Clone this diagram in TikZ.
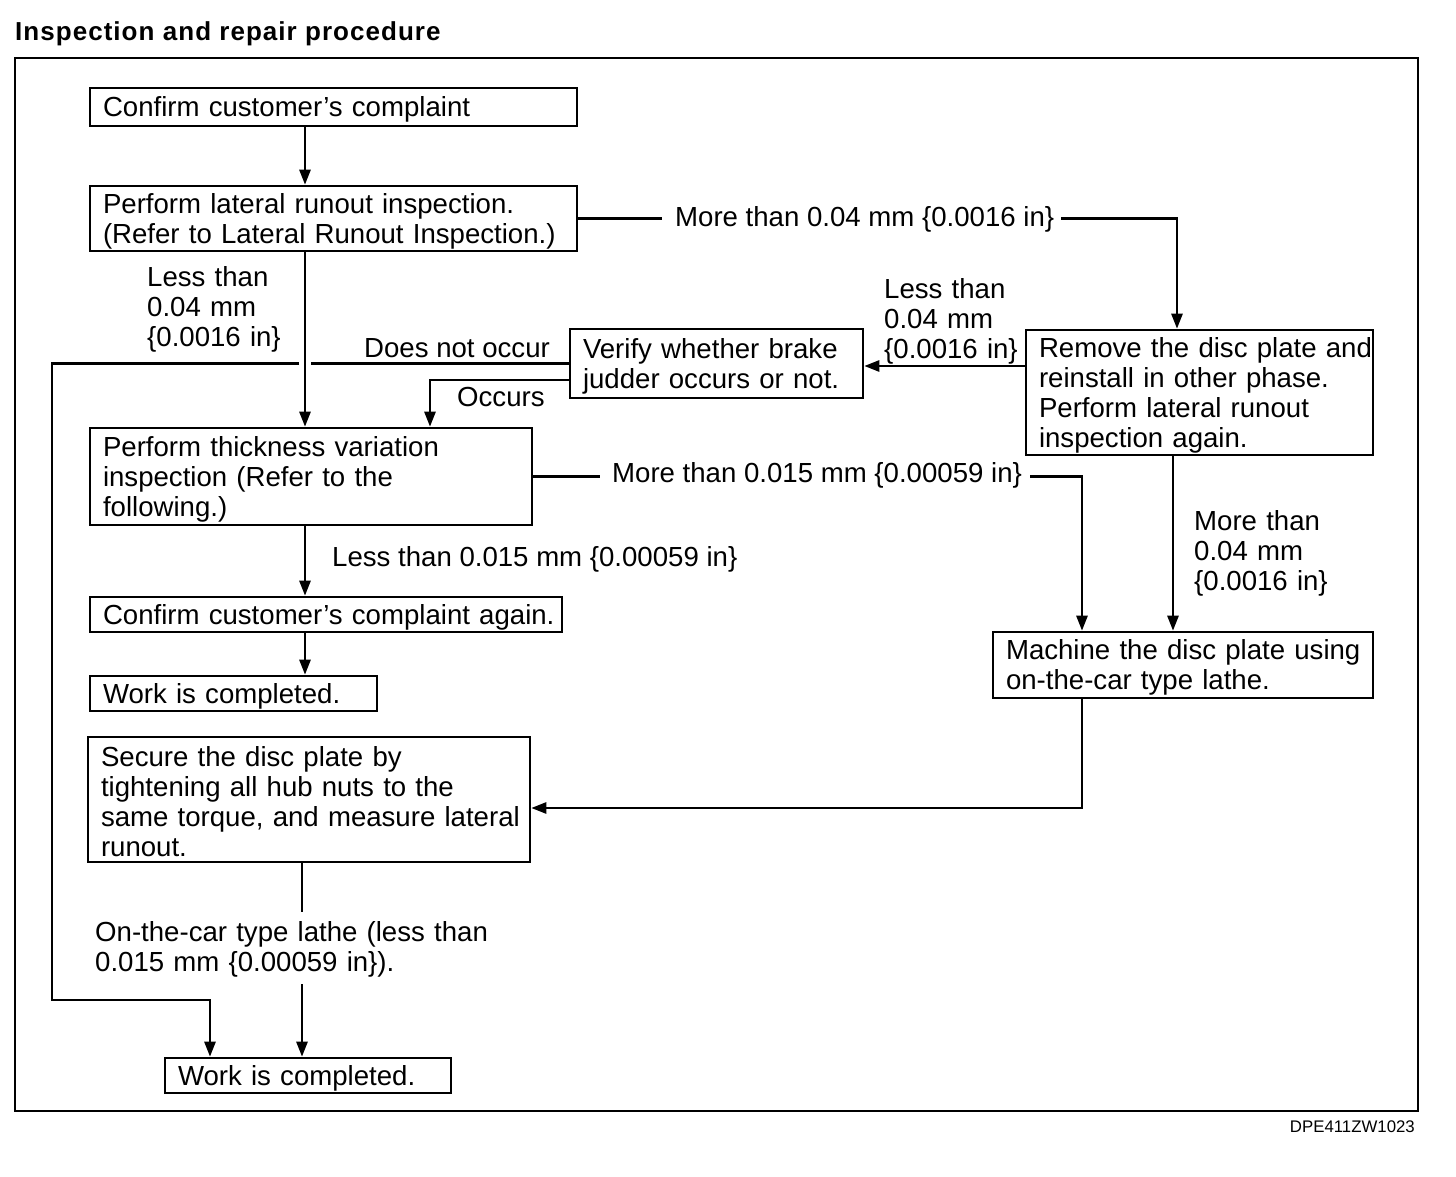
\documentclass[tikz,border=0pt]{standalone}
\usepackage{fontspec}
\setmainfont{Liberation Sans}
\usetikzlibrary{arrows.meta}
\newcommand\bodyfont{\fontsize{27.6}{30}\selectfont}
\newcommand\titlefont{\fontsize{26}{30}\selectfont\bfseries\addfontfeature{LetterSpace=4}}
\newcommand\codefont{\fontsize{16.8}{18}\selectfont}
\newcommand\mytl[1]{\mbox{#1}}
\tikzset{
  box/.style={draw, line width=2.6pt, inner xsep=13pt, inner ysep=0pt, align=left, font=\bodyfont, text height=25pt},
  lbl/.style={inner sep=0pt, align=left, font=\bodyfont},
  conn/.style={line width=2.6pt},
  arr/.style={line width=2.6pt, -{Triangle[length=15pt,width=11pt]}},
}
\begin{document}
\begin{tikzpicture}[x=1pt,y=-1pt]
\useasboundingbox (0,0) rectangle (1456,1176);
% title and frame
\node[inner sep=0pt, anchor=base west, font=\titlefont] (title) at (15,40) {Inspection and repair procedure};
\draw[line width=2.4pt] (15,58) rectangle (1418,1111);
\node[inner sep=0pt, anchor=base east, font=\codefont] (code) at (1415,1132) {DPE411ZW1023};

% columns
\coordinate (colA) at (305,0);
\coordinate (colB) at (302,0);
\coordinate (colC) at (1177,0);
\coordinate (colD) at (1082,0);
\coordinate (colE) at (1173,0);
\coordinate (colF) at (430,0);
\coordinate (colG) at (52,0);
\coordinate (colH) at (210,0);

% boxes
\node[box, text width=461pt, minimum height=38pt] (c1) at (333.5,107) {\mytl{Confirm customer's complaint}};
\node[box, text width=461pt, minimum height=65pt] (c2) at (333.5,218.5) {\mytl{Perform lateral runout inspection.}\\\mytl{(Refer to Lateral Runout Inspection.)}};
\node[box, text width=267pt, minimum height=69pt] (v3) at (716.5,363.5) {\mytl{Verify whether brake}\\\mytl{judder occurs or not.}};
\node[box, text width=321pt, minimum height=125pt] (r4) at (1199.5,392.5) {\mytl{Remove the disc plate and}\\\mytl{reinstall in other phase.}\\\mytl{Perform lateral runout}\\\mytl{inspection again.}};
\node[box, text width=416pt, minimum height=97pt] (t5) at (311,476.5) {\mytl{Perform thickness variation}\\\mytl{inspection (Refer to the}\\\mytl{following.)}};
\node[box, text width=446pt, minimum height=35pt] (c6) at (326,614.5) {\mytl{Confirm customer's complaint again.}};
\node[box, text width=261pt, minimum height=35pt] (w7) at (233.5,693.5) {\mytl{Work is completed.}};
\node[box, text width=354pt, minimum height=66pt] (m8) at (1183,665) {\mytl{Machine the disc plate using}\\\mytl{on-the-car type lathe.}};
\node[box, text width=416pt, minimum height=125pt] (s9) at (309,799.5) {\mytl{Secure the disc plate by}\\\mytl{tightening all hub nuts to the}\\\mytl{same torque, and measure lateral}\\\mytl{runout.}};
\node[box, text width=260pt, minimum height=35pt] (w10) at (308,1075.5) {\mytl{Work is completed.}};

% labels
\node[lbl, text width=160pt, anchor=base west] (lless1) at (147,286) {Less than\\0.04 mm\\\{0.0016 in\}};
\node[lbl, anchor=base west] (lmore1) at (675,226) {More than 0.04 mm \{0.0016 in\}};
\node[lbl, text width=160pt, anchor=base west] (lless2) at (884,298) {Less than\\0.04 mm\\\{0.0016 in\}};
\node[lbl, anchor=base west] (ldno) at (364,357) {Does not occur};
\node[lbl, anchor=base west] (locc) at (457,406) {Occurs};
\node[lbl, anchor=base west] (lmore2) at (612,482) {More than 0.015 mm \{0.00059 in\}};
\node[lbl, text width=160pt, anchor=base west] (lmore3) at (1194,530) {More than\\0.04 mm\\\{0.0016 in\}};
\node[lbl, anchor=base west] (lless3) at (332,566) {Less than 0.015 mm \{0.00059 in\}};
\node[lbl, text width=420pt, anchor=base west] (llathe) at (95,941) {On-the-car type lathe (less than\\0.015 mm \{0.00059 in\}).};

\coordinate (g1) at (302,912);
\coordinate (g2) at (302,984);
\coordinate (dnoL) at (299,363.5);
\coordinate (dnoR) at (311,363.5);
\coordinate (loopY) at (0,1000);
\coordinate (occY) at (0,380);
\coordinate (rlY) at (0,366);
\coordinate (msY) at (0,808);

% connectors
\draw[arr] (c1.south -| colA) -- (c2.north -| colA);
\draw[arr] (c2.south -| colA) -- (t5.north -| colA);
\draw[conn] (c2.east) -- ([xshift=-13pt]lmore1.west |- c2.east);
\draw[arr] ([xshift=7pt]lmore1.east |- c2.east) -- (colC |- c2.east) -- (r4.north -| colC);
\draw[arr] (r4.west |- rlY) -- (v3.east |- rlY);
\draw[conn] (v3.west) -- (dnoR);
\draw[arr] (dnoL) -- (colG |- dnoL) -- (colG |- loopY) -- (colH |- loopY) -- (w10.north -| colH);
\draw[arr] (v3.west |- occY) -- (colF |- occY) -- (t5.north -| colF);
\draw[conn] (t5.east) -- ([xshift=-12pt]lmore2.west |- t5.east);
\draw[arr] ([xshift=8pt]lmore2.east |- t5.east) -- (colD |- t5.east) -- (m8.north -| colD);
\draw[arr] (r4.south -| colE) -- (m8.north -| colE);
\draw[arr] (t5.south -| colA) -- (c6.north -| colA);
\draw[arr] (c6.south -| colA) -- (w7.north -| colA);
\draw[arr] (m8.south -| colD) -- (colD |- msY) -- (s9.east |- msY);
\draw[conn] (s9.south -| colB) -- (g1);
\draw[arr] (g2) -- (w10.north -| colB);
\end{tikzpicture}
\end{document}
